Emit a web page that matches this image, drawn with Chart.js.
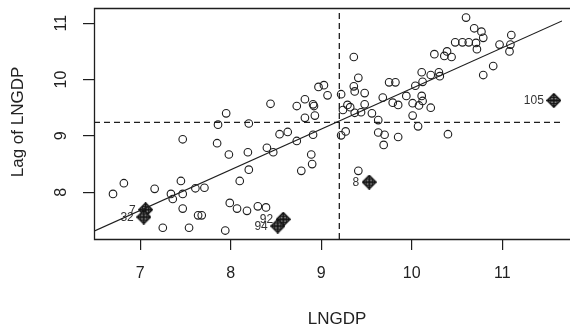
<!DOCTYPE html>
<html>
<head>
<meta charset="utf-8">
<script src="https://cdn.jsdelivr.net/npm/chart.js@4.4.1/dist/chart.umd.min.js"></script>
<style>
  html, body { margin: 0; padding: 0; background: #fff; }
</style>
</head>
<body>
<canvas id="moranChart" width="570" height="328"></canvas>
<script>
// --- data ---
const lngdp = [6.70, 6.82, 7.16, 7.25, 7.34, 7.36, 7.45, 7.47, 7.47, 7.47, 7.54, 7.61, 7.64, 7.68, 7.71,
  7.85, 7.86, 7.94, 7.95, 7.98, 7.99, 8.07, 8.10, 8.18, 8.19, 8.20, 8.20, 8.30, 8.39, 8.40,
  8.47, 8.44, 8.54, 8.63, 8.73, 8.73, 8.78, 8.82, 8.82, 8.89, 8.90, 8.91, 8.91, 8.92, 8.93,
  8.97, 9.03, 9.07, 9.22, 9.22, 9.27, 9.24, 9.29, 9.32, 9.36, 9.41, 9.36, 9.37, 9.37, 9.44,
  9.48, 9.48, 9.41, 9.56, 9.63, 9.63, 9.68, 9.69, 9.70, 9.75, 9.82, 9.79, 9.85, 9.85, 9.94,
  10.01, 10.01, 10.04, 10.07, 10.08, 10.11, 10.12, 10.11, 10.12, 10.21, 10.21, 10.25, 10.30, 10.31, 10.36,
  10.39, 10.44, 10.40, 10.48, 10.56, 10.63, 10.60, 10.69, 10.77, 10.79, 10.71, 10.72, 10.79, 10.90, 10.97,
  11.10, 11.09, 11.08];
const lagLngdp = [7.97, 8.16, 8.06, 7.37, 7.97, 7.88, 8.20, 7.97, 7.71, 8.94, 7.37, 8.07, 7.59, 7.59, 8.08,
  8.87, 9.20, 7.32, 9.40, 8.67, 7.81, 7.71, 8.20, 7.67, 8.71, 8.40, 9.22, 7.75, 7.73, 8.79,
  8.71, 9.57, 9.03, 9.07, 8.91, 9.53, 8.38, 9.65, 9.32, 8.67, 8.50, 9.02, 9.56, 9.53, 9.36,
  9.87, 9.90, 9.72, 9.74, 9.01, 9.08, 9.46, 9.55, 9.51, 10.40, 10.03, 9.88, 9.79, 9.41, 9.42,
  9.76, 9.56, 8.38, 9.40, 9.28, 9.06, 9.68, 8.84, 9.02, 9.95, 9.95, 9.59, 9.55, 8.98, 9.71,
  9.58, 9.36, 9.89, 9.17, 9.54, 10.13, 9.96, 9.71, 9.62, 9.50, 10.08, 10.45, 10.13, 10.06, 10.42,
  10.50, 10.40, 9.03, 10.66, 10.66, 10.66, 11.10, 10.91, 10.85, 10.74, 10.65, 10.54, 10.08, 10.24, 10.62,
  10.79, 10.62, 10.50];

// labelled observations (diamonds)
const hlLabels = ['7', '32', '92', '94', '8', '105'];
const hlX = [7.06, 7.04, 8.58, 8.52, 9.53, 11.57];
const hlY = [7.69, 7.56, 7.52, 7.40, 8.18, 9.63];

// fitted line end points and the two mean lines
const fitX = [6.49, 11.66];
const fitY = [7.31, 11.04];
const meanX = 9.20;
const meanY = 9.24;

const xRange = [6.49, 11.66];
const yRange = [7.17, 11.27];
const xTicks = [7, 8, 9, 10, 11];
const yTicks = [8, 9, 10, 11];

const FONT = "'Liberation Sans', Arial, Helvetica, sans-serif";
const INK = '#1e1e1e';

// diamond with crosshatch, used as point style
function makeDiamond(size) {
    const c = document.createElement('canvas');
    c.width = size; c.height = size;
    const g = c.getContext('2d');
    const h = size / 2;
    const diamond = () => {
        g.beginPath();
        g.moveTo(h, 0.8); g.lineTo(size - 0.8, h); g.lineTo(h, size - 0.8); g.lineTo(0.8, h);
        g.closePath();
    };
    diamond();
    g.fillStyle = '#9a9a9a';
    g.fill();
    g.save();
    g.clip();
    g.strokeStyle = '#222';
    g.lineWidth = 1;
    for (let k = h - 3; k <= h + 3; k += 3) {
        g.beginPath(); g.moveTo(k, 0); g.lineTo(k, size); g.stroke();
        g.beginPath(); g.moveTo(0, k); g.lineTo(size, k); g.stroke();
    }
    g.restore();
    diamond();
    g.lineWidth = 1.5;
    g.strokeStyle = '#111';
    g.stroke();
    g.beginPath();
    g.moveTo(h, 1); g.lineTo(h, size - 1); g.moveTo(1, h); g.lineTo(size - 1, h);
    g.lineWidth = 1.8;
    g.stroke();
    return c;
}

const framePlugin = {
    id: 'frame',
    afterDatasetsDraw(chart) {
        const { ctx, chartArea: a } = chart;
        ctx.save();
        ctx.strokeStyle = INK;
        ctx.lineWidth = 1.3;
        ctx.beginPath();
        ctx.moveTo(chart.width, a.top + 0.5);
        ctx.lineTo(a.left + 0.5, a.top + 0.5);
        ctx.lineTo(a.left + 0.5, a.bottom + 0.5);
        ctx.lineTo(chart.width, a.bottom + 0.5);
        ctx.stroke();
        ctx.restore();
    },
    afterDraw(chart) {
        const { ctx } = chart;
        const ys = chart.scales.y;
        ctx.save();
        ctx.fillStyle = '#222';
        ctx.textAlign = 'center';
        ctx.textBaseline = 'middle';

        // y tick labels, parallel to the axis
        ctx.font = `16px ${FONT}`;
        yTicks.forEach(v => {
            const py = ys.getPixelForValue(v);
            ctx.save();
            ctx.translate(62, py);
            ctx.rotate(-Math.PI / 2);
            ctx.fillText(String(v), 0, 0);
            ctx.restore();
        });

        // axis titles
        ctx.font = `17px ${FONT}`;
        ctx.fillText('LNGDP', 337, 319);
        ctx.save();
        ctx.translate(18.5, 122);
        ctx.rotate(-Math.PI / 2);
        ctx.fillText('Lag of LNGDP', 0, 0);
        ctx.restore();

        // labels of the marked observations
        ctx.font = `12px ${FONT}`;
        ctx.fillStyle = '#333';
        ctx.textAlign = 'right';
        const meta = chart.getDatasetMeta(4);
        meta.data.forEach((pt, i) => {
            ctx.fillText(hlLabels[i], pt.x - 10, pt.y + 0.5);
        });
        ctx.restore();
    }
};

const ctx = document.getElementById('moranChart').getContext('2d');
const myChart = new Chart(ctx, {
    type: 'scatter',
    data: {
        datasets: [
            {
                data: lngdp.map((v, i) => ({ x: v, y: lagLngdp[i] })),
                pointStyle: 'circle', pointRadius: 3.8, borderWidth: 1.1,
                borderColor: INK, backgroundColor: 'rgba(0,0,0,0)'
            },
            {
                data: fitX.map((v, i) => ({ x: v, y: fitY[i] })),
                showLine: true, pointRadius: 0, borderColor: INK, borderWidth: 1.2
            },
            {
                data: [{ x: meanX, y: yRange[0] }, { x: meanX, y: yRange[1] }],
                showLine: true, pointRadius: 0, borderColor: INK, borderWidth: 1.3, borderDash: [6, 4]
            },
            {
                data: [{ x: xRange[0], y: meanY }, { x: xRange[1], y: meanY }],
                showLine: true, pointRadius: 0, borderColor: INK, borderWidth: 1.3, borderDash: [6, 4]
            },
            {
                data: hlX.map((v, i) => ({ x: v, y: hlY[i] })),
                pointStyle: makeDiamond(15), pointRadius: 7, clip: false
            }
        ]
    },
    options: {
        responsive: false,
        devicePixelRatio: 1,
        animation: false,
        layout: { padding: { top: 6, right: 0, left: 0, bottom: 0 } },
        plugins: { legend: { display: false }, tooltip: { enabled: false } },
        scales: {
            x: {
                type: 'linear', min: xRange[0], max: xRange[1],
                afterBuildTicks: s => { s.ticks = xTicks.map(v => ({ value: v })); },
                afterFit: s => { s.height = 89; },
                grid: { display: true, drawOnChartArea: false, drawTicks: true, tickLength: 11, color: INK, lineWidth: 1.2 },
                border: { display: false },
                ticks: { color: '#222', font: { family: FONT, size: 16 }, padding: 14, maxRotation: 0 }
            },
            y: {
                type: 'linear', min: yRange[0], max: yRange[1],
                afterBuildTicks: s => { s.ticks = yTicks.map(v => ({ value: v })); },
                afterFit: s => { s.width = 94; },
                grid: { display: true, drawOnChartArea: false, drawTicks: true, tickLength: 11, color: INK, lineWidth: 1.2 },
                border: { display: false },
                ticks: { display: false }
            }
        }
    },
    plugins: [framePlugin]
});
</script>
</body>
</html>
